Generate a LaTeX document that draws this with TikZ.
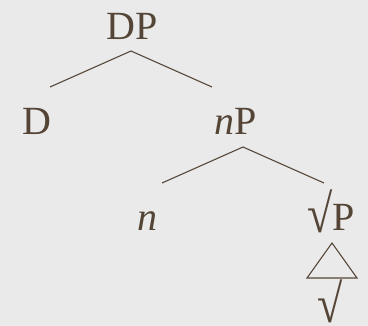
\documentclass[tikz,border=0pt]{standalone}
\usepackage{fontspec}
\usepackage{graphicx}
\setmainfont{Liberation Serif}
\definecolor{treeink}{RGB}{84,69,54}
\definecolor{slidebg}{RGB}{234,234,234}
\newcommand{\bigroot}{\raisebox{-2pt}{\scalebox{1.15}[1.35]{√}}}

\begin{document}
\begin{tikzpicture}[
      x=1pt, y=-1pt,
      label/.style={inner sep=0pt, anchor=base, text=treeink, font=\fontsize{40}{48}\selectfont},
      branch/.style={draw=treeink, line width=1.1pt},
    ]
      \fill[slidebg] (0,0) rectangle (368,326);
      \useasboundingbox (0,0) rectangle (368,326);

      \node[label] (DP) at (132, 40) {DP};
      \node[label] (D) at (36.5, 135) {D};
      \node[label] (nP) at (236, 135) {\textit{n}P};
      \node[label] (n) at (147.5, 231) {\textit{n}};
      \node[label] (rootP) at (331, 231) {\bigroot P};
      \node[label] (root) at (330.5, 321) {\bigroot};

      % branch points
      \coordinate (DP-top) at (131, 51);
      \coordinate (DP-left) at (50, 87);
      \coordinate (DP-right) at (212, 87);
      \coordinate (nP-top) at (243, 147);
      \coordinate (nP-left) at (162, 183);
      \coordinate (nP-right) at (324, 183);

      \draw[branch] (DP-left) -- (DP-top) -- (DP-right);
      \draw[branch] (nP-left) -- (nP-top) -- (nP-right);

      % triangle under the root phrase
      \coordinate (tri-top) at (332, 243);
      \coordinate (tri-left) at (307, 278);
      \coordinate (tri-right) at (357, 278);
      \draw[branch, line join=miter] (tri-top) -- (tri-left) -- (tri-right) -- cycle;
    \end{tikzpicture}
\end{document}
